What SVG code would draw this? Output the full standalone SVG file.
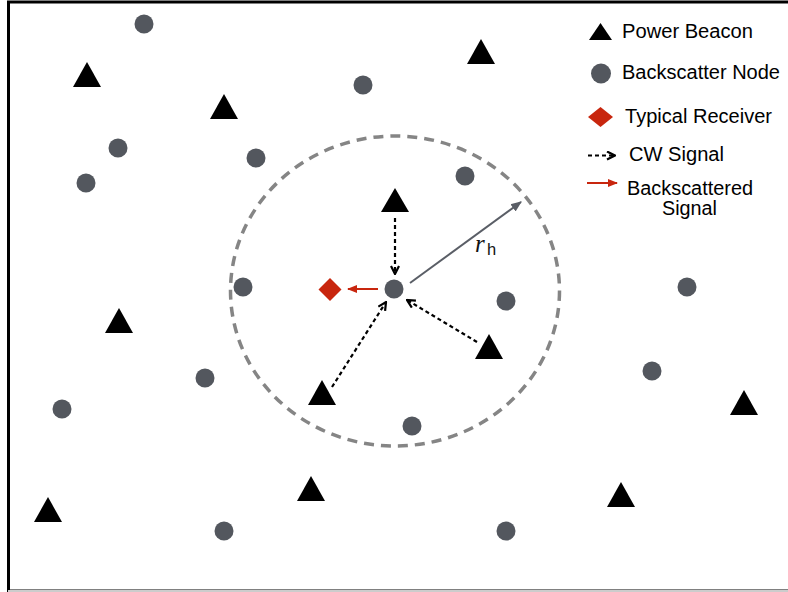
<svg xmlns="http://www.w3.org/2000/svg" width="788" height="592" viewBox="0 0 788 592">
<defs>
<style>
.pb{fill:#000}
.bn{fill:#53575e}
.rx{fill:#c8260e}
.lbl{font-family:"Liberation Sans",Arial,sans-serif;font-size:19.5px;fill:#000}
.cw{stroke:#000;stroke-width:2.2;stroke-dasharray:4 3;fill:none}
.bs{stroke:#c8260e;stroke-width:2;fill:none}
</style>
<marker id="ahk" viewBox="0 0 10 10" refX="9" refY="5" markerWidth="10" markerHeight="10" markerUnits="userSpaceOnUse" orient="auto"><path d="M1,1 L9,5 L1,9" fill="none" stroke="#000" stroke-width="2.2"/></marker>
<marker id="ahr" viewBox="0 0 10 10" refX="9" refY="5" markerWidth="10" markerHeight="10" markerUnits="userSpaceOnUse" orient="auto"><path d="M0,1 L10,5 L0,9 Z" fill="#c8260e"/></marker>
<marker id="ahg" viewBox="0 0 10 10" refX="9" refY="5" markerWidth="11" markerHeight="11" markerUnits="userSpaceOnUse" orient="auto"><path d="M0,1 L10,5 L0,9 Z" fill="#5a5e66"/></marker>
</defs>
<rect x="0" y="0" width="788" height="592" fill="#fff"/>
<rect x="8.5" y="2" width="800" height="589" fill="none" stroke="#000" stroke-width="3"/>
<line x1="8" y1="591" x2="788" y2="591" stroke="#cccccc" stroke-width="2"/>

<ellipse id="region" cx="395" cy="291" rx="164.5" ry="155" fill="none" stroke="#858585" stroke-width="3.5" stroke-dasharray="10 7"/>

<g id="connectors">
<line class="cw" x1="395" y1="218" x2="395" y2="274" marker-end="url(#ahk)"/>
<line class="cw" x1="332" y1="387" x2="386" y2="302" marker-end="url(#ahk)"/>
<line class="cw" x1="477" y1="342" x2="407" y2="300" marker-end="url(#ahk)"/>
<line class="bs" x1="378" y1="289" x2="348" y2="289" marker-end="url(#ahr)"/>
<line x1="410" y1="283" x2="521" y2="202" stroke="#5a5e66" stroke-width="2" marker-end="url(#ahg)"/>
</g>
<g id="rh-label">
<text x="475" y="252" font-family="'Liberation Serif','Times New Roman',serif" font-style="italic" font-size="25" fill="#111">r</text>
<text x="487" y="255" font-family="'Liberation Sans',Arial,sans-serif" font-size="16.5" fill="#111">h</text>
</g>

<g id="beacons">
<polygon id="pb1" class="pb" points="87,62 101,87 73,87"/>
<polygon id="pb2" class="pb" points="481,39 495,64 467,64"/>
<polygon id="pb3" class="pb" points="224,94 238,119 210,119"/>
<polygon id="pb4" class="pb" points="395,188 409,212 381,212"/>
<polygon id="pb5" class="pb" points="119,308 133,333 105,333"/>
<polygon id="pb6" class="pb" points="489,334 503,359 475,359"/>
<polygon id="pb7" class="pb" points="322,380 336,405 308,405"/>
<polygon id="pb8" class="pb" points="744,390 758,415 730,415"/>
<polygon id="pb9" class="pb" points="311,476 325,501 297,501"/>
<polygon id="pb10" class="pb" points="621,482 635,507 607,507"/>
<polygon id="pb11" class="pb" points="48,497 62,522 34,522"/>
</g>

<g id="nodes">
<circle id="bn1" class="bn" cx="144" cy="24" r="9.5"/>
<circle id="bn2" class="bn" cx="363" cy="85" r="9.5"/>
<circle id="bn3" class="bn" cx="118" cy="148" r="9.5"/>
<circle id="bn4" class="bn" cx="86" cy="183" r="9.5"/>
<circle id="bn5" class="bn" cx="256" cy="158" r="9.5"/>
<circle id="bn6" class="bn" cx="465" cy="176" r="9.5"/>
<circle id="bn7" class="bn" cx="243" cy="287" r="9.5"/>
<circle id="bn8" class="bn" cx="506" cy="301" r="9.5"/>
<circle id="bn9" class="bn" cx="687" cy="287" r="9.5"/>
<circle id="bn10" class="bn" cx="205" cy="378" r="9.5"/>
<circle id="bn11" class="bn" cx="62" cy="409" r="9.5"/>
<circle id="bn12" class="bn" cx="652" cy="371" r="9.5"/>
<circle id="bn13" class="bn" cx="412" cy="426" r="9.5"/>
<circle id="bn14" class="bn" cx="224" cy="531" r="9.5"/>
<circle id="bn15" class="bn" cx="506" cy="531" r="9.5"/>
<circle id="bn-center" class="bn" cx="394" cy="289" r="9.5"/>
</g>

<g id="receiver">
<polygon class="rx" points="330,278 341.5,289.5 330,301 318.5,289.5"/>
</g>

<g id="legend">
<polygon class="pb" points="600.5,23 612,40 589,40"/>
<text class="lbl" x="622" y="38" textLength="131" lengthAdjust="spacingAndGlyphs">Power Beacon</text>
<circle class="bn" cx="601" cy="73.5" r="10"/>
<text class="lbl" x="622" y="79" textLength="158" lengthAdjust="spacingAndGlyphs">Backscatter Node</text>
<polygon class="rx" points="600.5,107 613,117 600.5,127 588,117"/>
<text class="lbl" x="625" y="123" textLength="147" lengthAdjust="spacingAndGlyphs">Typical Receiver</text>
<line class="cw" x1="588" y1="155.5" x2="615" y2="155.5" marker-end="url(#ahk)"/>
<text class="lbl" x="629" y="161" textLength="95" lengthAdjust="spacingAndGlyphs">CW Signal</text>
<line class="bs" x1="587" y1="183" x2="617" y2="183" marker-end="url(#ahr)"/>
<text class="lbl" x="627" y="195" textLength="126" lengthAdjust="spacingAndGlyphs">Backscattered</text>
<text class="lbl" x="662" y="215" textLength="55" lengthAdjust="spacingAndGlyphs">Signal</text>
</g>
</svg>
